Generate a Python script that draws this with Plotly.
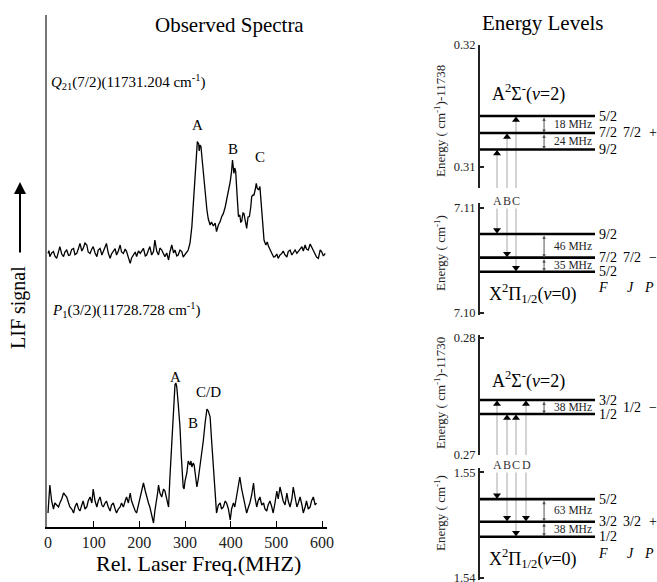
import plotly.graph_objects as go

W, H = 657, 582
SERIF = "Liberation Serif"

# ---------------- data ----------------
# Upper spectrum: Q21(7/2)
upper_freq = [0, 2, 4, 8, 12, 15, 19, 23, 26, 30, 34, 37, 41, 45, 48, 52, 56, 59, 63, 67, 70, 74, 77, 81, 85, 88, 92, 96, 99, 103,
              107, 110, 114, 118, 121, 125, 128, 132, 136, 139, 143, 147, 150, 154, 158, 161, 165, 169, 172, 176, 180, 183, 187, 191,
              194, 198, 202, 205, 209, 213, 216, 220, 223, 227, 231, 234, 238, 242, 245, 249, 253, 256, 260, 264, 267, 271, 275, 278,
              282, 285, 289, 293, 296, 300, 304, 307, 311, 315, 318, 322, 325, 327, 330, 331, 333, 335, 337, 340, 344, 348, 351, 355,
              358, 362, 366, 369, 373, 377, 380, 384, 388, 391, 395, 399, 402, 404, 406, 407, 409, 411, 414, 417, 420, 422, 424, 427,
              429, 432, 435, 438, 441, 444, 446, 449, 451, 454, 456, 458, 461, 464, 466, 468, 471, 473, 477, 480, 483, 487, 490, 494,
              497, 501, 504, 508, 512, 515, 519, 523, 526, 530, 534, 537, 541, 545, 548, 552, 556, 559, 563, 566, 570, 574, 577, 581,
              585, 588, 592, 596, 599, 603, 607]
upper_signal = [14.8, 16.2, 13.2, 15.0, 15.7, 13.5, 12.3, 16.0, 18.2, 14.5, 13.2, 15.5, 16.5, 13.8, 14.0, 16.8, 17.3, 14.2, 14.8, 17.5,
                19.8, 16.0, 17.3, 20.0, 19.0, 15.5, 14.8, 17.0, 18.2, 15.0, 13.2, 16.5, 17.3, 14.0, 15.7, 18.0, 19.8, 15.0, 12.3, 14.5,
                15.7, 17.2, 14.0, 16.0, 19.0, 15.5, 14.8, 17.0, 15.7, 13.0, 9.8, 12.5, 14.0, 15.5, 13.2, 16.0, 14.8, 16.2, 17.3, 13.5,
                14.0, 16.5, 18.2, 14.0, 15.7, 21.5, 16.0, 14.0, 17.5, 16.5, 14.5, 13.2, 15.0, 11.5, 15.5, 19.0, 15.0, 16.5, 13.5, 14.0,
                16.5, 15.7, 13.0, 14.0, 15.5, 16.5, 20.0, 28.2, 38.0, 49.8, 62.0, 70.7, 69.5, 66.0, 69.0, 68.0, 63.0, 54.8, 45.0, 36.5,
                32.0, 29.0, 30.5, 28.5, 30.0, 25.7, 29.0, 30.7, 33.0, 34.8, 38.0, 41.5, 45.0, 50.7, 56.0, 61.5, 57.0, 54.8, 57.5, 55.7,
                44.0, 33.2, 34.0, 30.5, 30.7, 35.0, 34.8, 30.0, 27.3, 33.0, 33.2, 38.0, 43.2, 44.0, 44.0, 47.0, 49.8, 47.5, 46.5, 48.2,
                42.0, 36.5, 27.0, 21.5, 19.0, 20.5, 18.2, 16.0, 14.8, 13.0, 13.2, 14.5, 12.3, 14.0, 14.8, 16.0, 14.0, 13.0, 15.7, 16.5,
                14.0, 15.0, 16.5, 14.8, 15.7, 17.5, 18.2, 16.0, 19.0, 17.0, 16.5, 19.5, 18.2, 16.0, 14.8, 13.0, 12.3, 16.5, 15.7, 13.5,
                14.8]

# Lower spectrum: P1(3/2)
lower_freq = [0, 2, 4, 8, 12, 15, 19, 23, 26, 30, 34, 37, 41, 45, 48, 52, 56, 59, 63, 67, 70, 74, 77, 81, 85, 88, 92, 96, 99, 103,
              107, 110, 114, 118, 121, 125, 128, 132, 136, 139, 143, 147, 150, 154, 158, 161, 165, 169, 172, 176, 180, 183, 187, 191,
              194, 198, 202, 205, 209, 213, 216, 220, 223, 227, 231, 234, 238, 240, 242, 245, 249, 253, 256, 260, 264, 267, 271, 275,
              278, 280, 282, 285, 289, 292, 296, 298, 300, 304, 307, 311, 313, 315, 318, 320, 322, 326, 329, 333, 337, 340, 344, 348,
              351, 355, 358, 362, 366, 369, 373, 377, 380, 384, 388, 391, 395, 399, 402, 406, 409, 413, 417, 420, 424, 428, 431, 435,
              439, 442, 446, 450, 453, 457, 460, 464, 468, 472, 475, 479, 482, 486, 490, 493, 497, 501, 504, 508, 512, 515, 519, 523,
              526, 530, 534, 537, 541, 545, 548, 552, 556, 559, 563, 566, 570, 574, 577, 581, 585, 588]
lower_signal = [7, 14, 21, 13, 9, 12, 11, 10, 12, 14, 17, 16, 15, 12, 10, 9, 7, 10, 12, 9, 8, 11, 13, 9, 10, 13, 15, 12, 19, 13,
                10, 13, 15, 11, 10, 12, 13, 10, 8, 11, 12, 9, 7, 9, 10, 12, 10, 13, 15, 12, 17, 13, 10, 8, 7, 11, 15, 18, 22, 18,
                15, 12, 10, 6, 2, 8, 13, 17, 21, 17, 15, 19, 18, 13, 10, 25, 43, 60, 71, 72, 70, 62, 50, 35, 20, 19, 23, 27, 33, 31,
                33, 30, 32, 31, 28, 20, 24, 30, 36, 43, 52, 59, 58, 55, 44, 30, 17, 7, 11, 12, 9, 10, 13, 12, 9, 3.5, 9, 12, 10, 15,
                20, 25, 19, 15, 11, 7, 10, 12, 16, 22, 15, 10, 13, 15, 11, 12, 9, 8, 11, 13, 10, 7, 12, 18, 14, 20, 16, 13, 11, 17,
                13, 10, 14, 20, 15, 10, 12, 15, 11, 7, 10, 13, 9, 10, 13, 15, 11, 12]

freq_ticks = [0, 100, 200, 300, 400, 500, 600]

upper_peak_labels = ["A", "B", "C"]
upper_peak_pos = [(328, 79), (405, 67), (464, 63)]
lower_peak_labels = ["A", "B", "C/D"]
lower_peak_pos = [(280, 75), (317, 52), (352, 67.5)]

# Energy levels (cm^-1)
lvl1_upper_F = ["5/2", "7/2", "9/2"]
lvl1_upper_E = [0.31418, 0.31279, 0.31143]
lvl1_lower_F = ["9/2", "7/2", "5/2"]
lvl1_lower_E = [7.10752, 7.10527, 7.10393]
lvl2_upper_F = ["3/2", "1/2"]
lvl2_upper_E = [0.27470, 0.27350]
lvl2_lower_F = ["5/2", "3/2", "1/2"]
lvl2_lower_E = [1.54745, 1.54531, 1.54390]

# hyperfine splittings (level index pairs) in MHz
split1_upper = [(0, 1, "18 MHz"), (1, 2, "24 MHz")]
split1_lower = [(0, 1, "46 MHz"), (1, 2, "35 MHz")]
split2_upper = [(0, 1, "38 MHz")]
split2_lower = [(0, 1, "63 MHz"), (1, 2, "38 MHz")]

# transitions: (label, upper F, lower F)
trans1 = [("A", "9/2", "9/2"), ("B", "7/2", "7/2"), ("C", "5/2", "5/2")]
trans2 = [("A", "3/2", "5/2"), ("B", "1/2", "3/2"), ("C", "1/2", "1/2"), ("D", "3/2", "3/2")]

# ---------------- layout helpers ----------------
def px(x):
    return x / W


def py(y):
    return 1 - y / H


trans_x = [0.148, 0.235, 0.313, 0.4]   # schematic horizontal positions of the transitions
split_x = 0.557

# right panels: axis name -> (top px, bottom px, range, tickvals)
panels = {
    "y3": (45, 188, [0.30828, 0.32], [0.31, 0.32]),
    "y4": (203, 315, [7.0998, 7.11048], [7.10, 7.11]),
    "y5": (335, 455, [0.27, 0.28026], [0.27, 0.28]),
    "y6": (468, 580, [1.5398, 1.5504], [1.54, 1.55]),
}


def data_per_px(ax):
    top, bot, rng, _ = panels[ax]
    return (rng[1] - rng[0]) / (bot - top)


fig = go.Figure()

# ---------------- spectra ----------------
fig.add_trace(go.Scatter(x=upper_freq, y=upper_signal, mode="lines", xaxis="x", yaxis="y2",
                         line=dict(color="black", width=1.3), hoverinfo="skip"))
fig.add_trace(go.Scatter(x=lower_freq, y=lower_signal, mode="lines", xaxis="x", yaxis="y",
                         line=dict(color="black", width=1.3), hoverinfo="skip"))

annotations = []
for lab, (fx, fy) in zip(upper_peak_labels, upper_peak_pos):
    annotations.append(dict(x=fx, y=fy, xref="x", yref="y2", text=lab, showarrow=False,
                            font=dict(family=SERIF, size=15, color="black")))
for lab, (fx, fy) in zip(lower_peak_labels, lower_peak_pos):
    annotations.append(dict(x=fx, y=fy, xref="x", yref="y", text=lab, showarrow=False,
                            font=dict(family=SERIF, size=15, color="black")))

# ---------------- energy levels ----------------
def draw_pair(up_ax, low_ax, upF, upE, loF, loE, trans, spl_up, spl_lo):
    up_map = dict(zip(upF, upE))
    lo_map = dict(zip(loF, loE))
    up_rng = panels[up_ax][2]
    lo_rng = panels[low_ax][2]
    # transition lines
    for i, (lab, fu, fl) in enumerate(trans):
        xp = trans_x[i]
        fig.add_trace(go.Scatter(x=[xp, xp], y=[up_rng[0], up_map[fu]], xaxis="x2", yaxis=up_ax, mode="lines",
                                 line=dict(color="#c4c4c4", width=1.5), hoverinfo="skip"))
        fig.add_trace(go.Scatter(x=[xp, xp], y=[lo_map[fl], lo_rng[1]], xaxis="x2", yaxis=low_ax, mode="lines",
                                 line=dict(color="#c4c4c4", width=1.5), hoverinfo="skip"))
    # level lines
    for ax, Fs, Es in ((up_ax, upF, upE), (low_ax, loF, loE)):
        for F, E in zip(Fs, Es):
            fig.add_trace(go.Scatter(x=[0, 1], y=[E, E], xaxis="x2", yaxis=ax, mode="lines",
                                     line=dict(color="black", width=2.6), hoverinfo="skip"))
            annotations.append(dict(x=1, y=E, xref="x2", yref=ax, text=F, showarrow=False, xanchor="left",
                                    yanchor="middle", xshift=2, font=dict(family=SERIF, size=14, color="black")))
    # triangles
    for i, (lab, fu, fl) in enumerate(trans):
        xp = trans_x[i]
        fig.add_trace(go.Scatter(x=[xp], y=[up_map[fu] - 4 * data_per_px(up_ax)], xaxis="x2", yaxis=up_ax,
                                 mode="markers", marker=dict(symbol="triangle-up", size=7, color="black"),
                                 hoverinfo="skip", cliponaxis=False))
        fig.add_trace(go.Scatter(x=[xp], y=[lo_map[fl] + 4 * data_per_px(low_ax)], xaxis="x2", yaxis=low_ax,
                                 mode="markers", marker=dict(symbol="triangle-down", size=7, color="black"),
                                 hoverinfo="skip", cliponaxis=False))
    # splittings
    for ax, Es, spl in ((up_ax, upE, spl_up), (low_ax, loE, spl_lo)):
        for i, j, txt in spl:
            annotations.append(dict(x=split_x, y=Es[j], ax=split_x, ay=Es[i], xref="x2", yref=ax,
                                    axref="x2", ayref=ax, text="", showarrow=True, arrowside="end+start",
                                    arrowhead=2, startarrowhead=2, arrowsize=0.7, startarrowsize=0.7,
                                    arrowwidth=1, arrowcolor="#555"))
            annotations.append(dict(x=1, y=(Es[i] + Es[j]) / 2, xref="x2", yref=ax, text=txt, showarrow=False,
                                    xanchor="right", yanchor="middle", xshift=-1,
                                    font=dict(family=SERIF, size=11.5, color="#222")))


draw_pair("y3", "y4", lvl1_upper_F, lvl1_upper_E, lvl1_lower_F, lvl1_lower_E, trans1, split1_upper, split1_lower)
draw_pair("y5", "y6", lvl2_upper_F, lvl2_upper_E, lvl2_lower_F, lvl2_lower_E, trans2, split2_upper, split2_lower)

# transition letters in the gaps
for i, (lab, _, _) in enumerate(trans1):
    annotations.append(dict(x=trans_x[i], y=py(201), xref="x2", yref="paper", text=lab, showarrow=False,
                            font=dict(family=SERIF, size=12, color="#333"), bgcolor="white", borderpad=0))
for i, (lab, _, _) in enumerate(trans2):
    annotations.append(dict(x=trans_x[i], y=py(465), xref="x2", yref="paper", text=lab, showarrow=False,
                            font=dict(family=SERIF, size=12, color="#333"), bgcolor="white", borderpad=0))

# J and parity labels
jp = [("7/2", "+", "y3", lvl1_upper_E[1]), ("7/2", "\u2212", "y4", lvl1_lower_E[1]),
      ("1/2", "\u2212", "y5", (lvl2_upper_E[0] + lvl2_upper_E[1]) / 2), ("3/2", "+", "y6", lvl2_lower_E[1])]
for J, P, ax, E in jp:
    annotations.append(dict(x=px(632), y=E, xref="paper", yref=ax, text=J, showarrow=False,
                            font=dict(family=SERIF, size=14, color="black")))
    annotations.append(dict(x=px(653), y=E, xref="paper", yref=ax, text=P, showarrow=False,
                            font=dict(family=SERIF, size=14, color="black")))

# state labels
state_font = dict(family=SERIF, size=18, color="black")
annotations += [
    dict(x=px(528), y=py(93), xref="paper", yref="paper", text="A<sup>2</sup>\u03a3<sup>-</sup>(<i>v</i>=2)",
         showarrow=False, font=state_font),
    dict(x=px(528), y=py(380), xref="paper", yref="paper", text="A<sup>2</sup>\u03a3<sup>-</sup>(<i>v</i>=2)",
         showarrow=False, font=state_font),
    dict(x=px(533), y=py(293), xref="paper", yref="paper", text="X<sup>2</sup>\u03a0<sub>1/2</sub>(<i>v</i>=0)",
         showarrow=False, font=state_font),
    dict(x=px(533), y=py(558), xref="paper", yref="paper", text="X<sup>2</sup>\u03a0<sub>1/2</sub>(<i>v</i>=0)",
         showarrow=False, font=state_font),
]
for yy in (287, 553):
    for xx, t in ((603, "F"), (630, "J"), (649, "P")):
        annotations.append(dict(x=px(xx), y=py(yy), xref="paper", yref="paper", text="<i>%s</i>" % t,
                                showarrow=False, font=dict(family=SERIF, size=14, color="black")))

# right axis titles
for txt, yc in (("Energy ( cm<sup>-1</sup>)-11738", 121), ("Energy ( cm<sup>-1</sup>)", 253),
                ("Energy ( cm<sup>-1</sup>)-11730", 393), ("Energy ( cm<sup>-1</sup>)", 513)):
    annotations.append(dict(x=px(440), y=py(yc), xref="paper", yref="paper", text=txt, textangle=-90,
                            showarrow=False, font=dict(family=SERIF, size=13, color="#222")))

# titles and labels
annotations += [
    dict(x=px(229), y=py(25), xref="paper", yref="paper", text="Observed Spectra", showarrow=False,
         font=dict(family=SERIF, size=21, color="black")),
    dict(x=px(543), y=py(23), xref="paper", yref="paper", text="Energy Levels", showarrow=False,
         font=dict(family=SERIF, size=21, color="black")),
    dict(x=px(49), y=py(82), xref="paper", yref="paper", xanchor="left",
         text="<i>Q</i><sub>21</sub>(7/2)(11731.204 cm<sup>-1</sup>)", showarrow=False,
         font=dict(family=SERIF, size=15, color="black")),
    dict(x=px(50), y=py(310), xref="paper", yref="paper", xanchor="left",
         text="<i>P</i><sub>1</sub>(3/2)(11728.728 cm<sup>-1</sup>)", showarrow=False,
         font=dict(family=SERIF, size=15, color="black")),
    dict(x=px(198), y=py(563), xref="paper", yref="paper", text="Rel. Laser Freq.(MHZ)", showarrow=False,
         font=dict(family=SERIF, size=22, color="black")),
    dict(x=px(18), y=py(308), xref="paper", yref="paper", text="LIF signal", textangle=-90, showarrow=False,
         font=dict(family=SERIF, size=20, color="black")),
    dict(x=px(20), y=py(182), xref="paper", yref="paper", ax=0, ay=72, text="", showarrow=True,
         arrowhead=2, arrowsize=1.2, arrowwidth=2, arrowcolor="black"),
]
for a in annotations:
    a.setdefault("xanchor", "center")
    a.setdefault("yanchor", "middle")

# ---------------- axes ----------------
layout = dict(
    width=W, height=H, autosize=False,
    margin=dict(l=0, r=0, t=0, b=0, autoexpand=False),
    paper_bgcolor="white", plot_bgcolor="white",
    showlegend=False,
    xaxis=dict(domain=[px(47), px(327)], range=[-2.2, 610.9], anchor="y",
               showline=True, linecolor="black", linewidth=1.5, showgrid=False, zeroline=False,
               ticks="inside", ticklen=6, tickwidth=1.3, tickcolor="black",
               tickvals=freq_ticks, ticktext=[str(v) for v in freq_ticks],
               tickfont=dict(family=SERIF, size=16, color="#222")),
    yaxis=dict(domain=[py(527), py(15)], range=[0, 256], anchor="x",
               showline=True, linecolor="#777", linewidth=2, showgrid=False, zeroline=False,
               showticklabels=False, ticks=""),
    yaxis2=dict(domain=[py(283), py(103)], range=[0, 90], anchor="x", visible=False),
    xaxis2=dict(domain=[px(480), px(595)], range=[0, 1], anchor="y3", visible=False),
    annotations=annotations,
)
for ax, (top, bot, rng, tv) in panels.items():
    layout["yaxis" + ax[1:]] = dict(domain=[py(bot), py(top)], range=rng, anchor="x2",
                                    showline=True, linecolor="#222", linewidth=2, showgrid=False, zeroline=False,
                                    ticks="inside", ticklen=4, tickwidth=1.5, tickcolor="#222",
                                    tickvals=tv, ticktext=["%.2f" % v for v in tv], ticklabeloverflow="allow",
                                    tickfont=dict(family=SERIF, size=12.5, color="#222"))
fig.update_layout(**layout)

fig.write_html("out.html")
